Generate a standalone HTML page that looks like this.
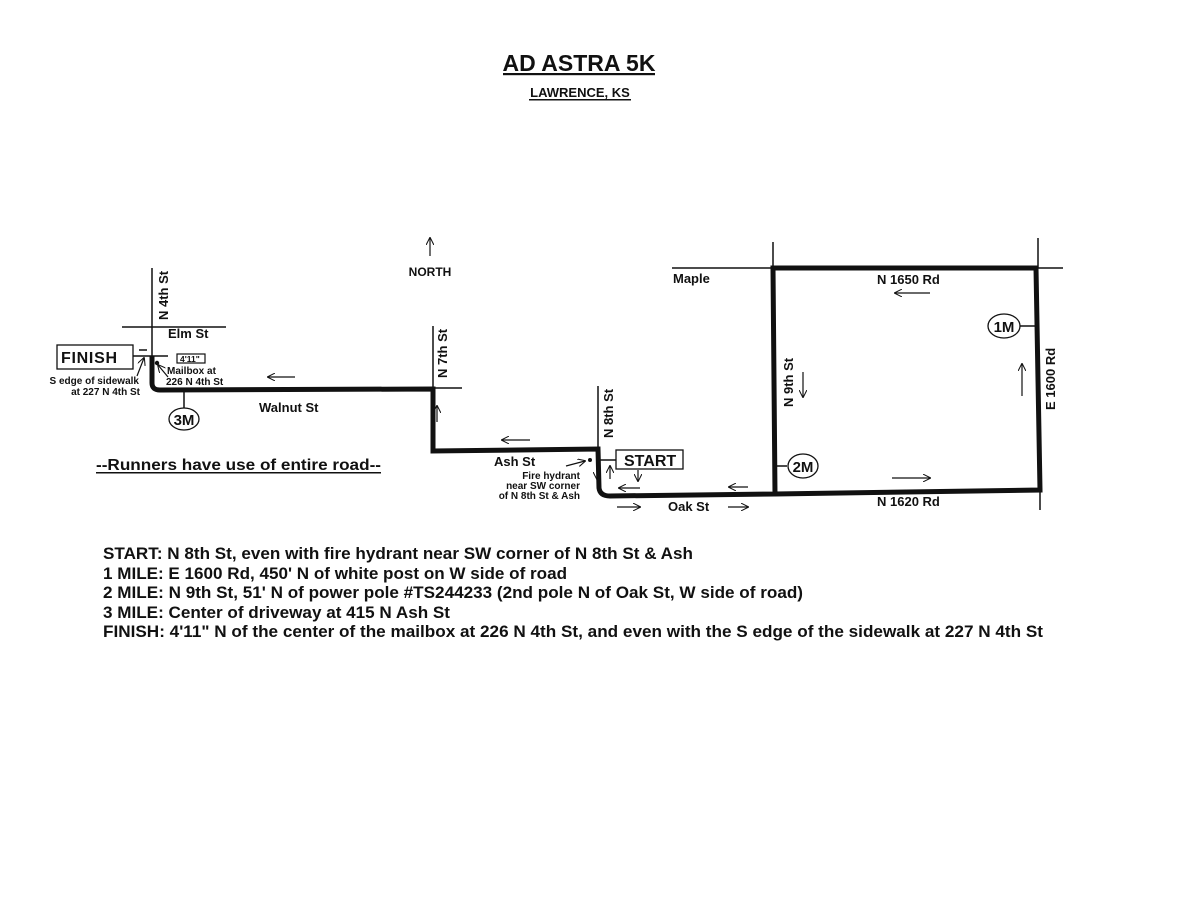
<!DOCTYPE html>
<html><head><meta charset="utf-8"><style>
html,body{margin:0;padding:0;background:#fff;}
svg{display:block;}
text{font-family:"Liberation Sans",Arial,sans-serif;font-weight:bold;fill:#111;}
</style></head><body>
<svg width="1180" height="912" viewBox="0 0 1180 912" xmlns="http://www.w3.org/2000/svg">
<defs>
<marker id="ah" viewBox="0 0 10 10" refX="9" refY="5" markerWidth="8" markerHeight="8" orient="auto" markerUnits="userSpaceOnUse">
<path d="M0,0 L10,5 L0,10" fill="none" stroke="#111" stroke-width="1.3"/>
</marker>
</defs>
<!-- Title -->
<text x="579" y="71" font-size="23" text-anchor="middle">AD ASTRA 5K</text>
<rect x="503" y="73" width="152" height="2.2" fill="#111"/>
<text x="580" y="97" font-size="13" text-anchor="middle">LAWRENCE, KS</text>
<rect x="529" y="99" width="102" height="1.5" fill="#111"/>

<!-- thin streets -->
<g stroke="#111" stroke-width="1.5" fill="none">
<line x1="152" y1="268" x2="152" y2="358"/>
<line x1="122" y1="327" x2="226" y2="327"/>
<line x1="433" y1="326" x2="433" y2="389"/>
<line x1="433" y1="388" x2="462" y2="388"/>
<line x1="598" y1="386" x2="598" y2="450"/>
<line x1="672" y1="268" x2="1063" y2="268"/>
<line x1="773" y1="242" x2="773" y2="268"/>
<line x1="1038" y1="238" x2="1038" y2="268"/>
<line x1="1040" y1="490" x2="1040" y2="510"/>
<line x1="133" y1="356" x2="168" y2="356"/>
<line x1="139" y1="350" x2="147" y2="350"/>
<line x1="598" y1="460" x2="616" y2="460"/>
<line x1="184" y1="390" x2="184" y2="408"/>
<line x1="775" y1="466" x2="787" y2="466"/>
<line x1="1020" y1="326" x2="1038" y2="326"/>
</g>

<!-- route -->
<path d="M152,356 L152,383 Q152,390 160,390 L433,389 L433,451 L598,449 L599,488 Q600,496 610,496 L775,494 L1040,490 L1036,268 L773,268 L775,494" fill="none" stroke="#111" stroke-width="5" stroke-linejoin="miter"/>

<!-- boxes -->
<rect x="57" y="345" width="76" height="24" fill="#fff" stroke="#111" stroke-width="1.3"/>
<text x="61" y="363" font-size="16" textLength="56">FINISH</text>
<rect x="177" y="354" width="28" height="9" fill="#fff" stroke="#111" stroke-width="1.2"/>
<text x="180" y="362" font-size="8.5">4'11"</text>
<circle cx="157" cy="363" r="2.2" fill="#111"/>
<rect x="616" y="450" width="67" height="19" fill="#fff" stroke="#111" stroke-width="1.3"/>
<text x="624" y="466" font-size="16">START</text>
<circle cx="590" cy="460" r="2" fill="#111"/>

<ellipse cx="184" cy="419" rx="15" ry="11" fill="#fff" stroke="#111" stroke-width="1.3"/>
<text x="184" y="425" font-size="15" text-anchor="middle">3M</text>
<ellipse cx="803" cy="466" rx="15" ry="12" fill="#fff" stroke="#111" stroke-width="1.3"/>
<text x="803" y="472" font-size="15" text-anchor="middle">2M</text>
<ellipse cx="1004" cy="326" rx="16" ry="12" fill="#fff" stroke="#111" stroke-width="1.3"/>
<text x="1004" y="332" font-size="15" text-anchor="middle">1M</text>

<!-- arrows -->
<g stroke="#111" stroke-width="1.2" fill="none" marker-end="url(#ah)">
<line x1="430" y1="256" x2="430" y2="238"/>
<line x1="295" y1="377" x2="268" y2="377"/>
<line x1="437" y1="422" x2="437" y2="406"/>
<line x1="530" y1="440" x2="502" y2="440"/>
<line x1="597" y1="462" x2="597" y2="479"/>
<line x1="610" y1="479" x2="610" y2="466"/>
<line x1="638" y1="470" x2="638" y2="481"/>
<line x1="640" y1="488" x2="619" y2="488"/>
<line x1="748" y1="487" x2="729" y2="487"/>
<line x1="617" y1="507" x2="640" y2="507"/>
<line x1="728" y1="507" x2="748" y2="507"/>
<line x1="803" y1="372" x2="803" y2="397"/>
<line x1="930" y1="293" x2="895" y2="293"/>
<line x1="892" y1="478" x2="930" y2="478"/>
<line x1="1022" y1="396" x2="1022" y2="364"/>
<line x1="137" y1="376" x2="144" y2="358"/>
<line x1="168" y1="377" x2="158" y2="365"/>
<line x1="566" y1="466" x2="585" y2="461"/>
</g>

<!-- labels -->
<text x="430" y="276" font-size="12" text-anchor="middle">NORTH</text>
<text transform="translate(168,320) rotate(-90)" font-size="13">N 4th St</text>
<text x="168" y="338" font-size="13">Elm St</text>
<text x="167" y="374" font-size="10">Mailbox at</text>
<text x="166" y="385" font-size="10">226 N 4th St</text>
<text x="139" y="384" font-size="10" text-anchor="end">S edge of sidewalk</text>
<text x="140" y="395" font-size="10" text-anchor="end">at 227 N 4th St</text>
<text x="259" y="412" font-size="13">Walnut St</text>
<text x="96" y="470" font-size="16" textLength="285" lengthAdjust="spacingAndGlyphs">--Runners have use of entire road--</text>
<rect x="96" y="472" width="285" height="1.5" fill="#111"/>
<text transform="translate(447,378) rotate(-90)" font-size="13">N 7th St</text>
<text x="494" y="466" font-size="13">Ash St</text>
<text x="580" y="479" font-size="10" text-anchor="end">Fire hydrant</text>
<text x="580" y="489" font-size="10" text-anchor="end">near SW corner</text>
<text x="580" y="499" font-size="10" text-anchor="end">of N 8th St &amp; Ash</text>
<text transform="translate(613,438) rotate(-90)" font-size="13">N 8th St</text>
<text x="668" y="511" font-size="13">Oak St</text>
<text x="673" y="283" font-size="13">Maple</text>
<text transform="translate(793,407) rotate(-90)" font-size="13">N 9th St</text>
<text x="877" y="284" font-size="13">N 1650 Rd</text>
<text x="877" y="506" font-size="13">N 1620 Rd</text>
<text transform="translate(1055,410) rotate(-90)" font-size="13">E 1600 Rd</text>

<!-- notes -->
<text x="103" y="559" font-size="17" textLength="590" lengthAdjust="spacingAndGlyphs">START: N 8th St, even with fire hydrant near SW corner of N 8th St &amp; Ash</text>
<text x="103" y="579" font-size="17" textLength="464" lengthAdjust="spacingAndGlyphs">1 MILE: E 1600 Rd, 450' N of white post on W side of road</text>
<text x="103" y="598" font-size="17" textLength="700" lengthAdjust="spacingAndGlyphs">2 MILE: N 9th St, 51' N of power pole #TS244233 (2nd pole N of Oak St, W side of road)</text>
<text x="103" y="618" font-size="17" textLength="347" lengthAdjust="spacingAndGlyphs">3 MILE: Center of driveway at 415 N Ash St</text>
<text x="103" y="637" font-size="17" textLength="940" lengthAdjust="spacingAndGlyphs">FINISH: 4'11" N of the center of the mailbox at 226 N 4th St, and even with the S edge of the sidewalk at 227 N 4th St</text>
</svg>
</body></html>
